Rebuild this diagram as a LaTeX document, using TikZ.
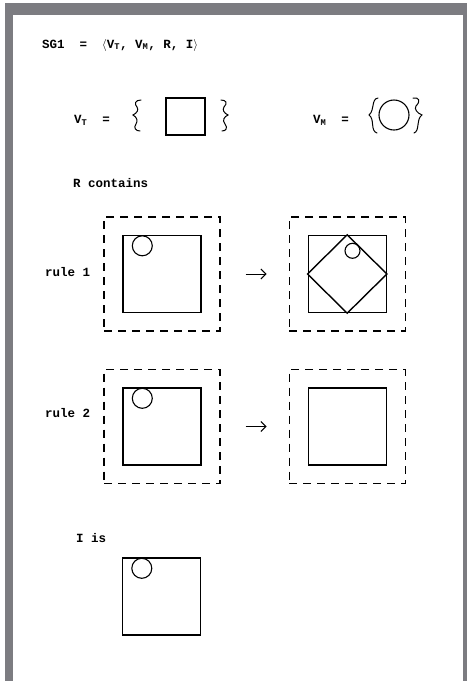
\documentclass[tikz,border=0pt]{standalone}
\usepackage{fontspec}
\setmonofont{Liberation Mono}
\usetikzlibrary{positioning,arrows.meta}
\definecolor{pagegray}{RGB}{124,124,129}

\begin{document}
\begin{tikzpicture}[
  x=1pt, y=-1pt,
  every node/.style={font=\ttfamily\bfseries\fontsize{12.5}{14}\selectfont},
  txt/.style={anchor=west, inner sep=0pt},
  dashbox/.style={draw, dash pattern=on 8pt off 6pt, line width=1.2pt, minimum width=116pt, minimum height=114pt, inner sep=0pt},
  cell/.style={draw, line width=1.4pt, minimum width=78pt, minimum height=77pt, inner sep=0pt},
  dot/.style={draw, circle, line width=1.1pt, minimum size=20pt, inner sep=0pt},
  brace/.style={line width=1pt, line cap=round},
  arrow/.style={-{Straight Barb[length=5pt,width=10pt]}, line width=1pt, shorten <=25pt, shorten >=22pt}
]
\useasboundingbox (0,0) rectangle (467,681);
\fill[white] (0,0) rectangle (467,681);
% page edges
\fill[pagegray] (5,3) rectangle (467,15);
\fill[pagegray] (5,3) rectangle (13,681);
\fill[pagegray] (463,3) rectangle (467,681);

% the grammar
\node[txt] (title) at (42,45) {SG1~~=~~$\big\langle$V\textsubscript{T},~V\textsubscript{M},~R,~I$\big\rangle$};

% terminal and marker vocabularies
\node[txt] (vt) at (74,120) {V\textsubscript{T}~~=};
\node[cell, minimum width=39pt, minimum height=37pt] (tsym) at (185.5,116.5) {};
\draw[brace] (141,100) .. controls (135,100) and (134,104) .. (137,107) .. controls (139,110) and (137,113) .. (133,115)
  .. controls (137,117) and (138,121) .. (136,124) .. controls (133,128) and (136,131) .. (140,131);
\draw[brace] (221,100) .. controls (226,100) and (228,103) .. (224,107) .. controls (222,110) and (224,113) .. (228,115)
  .. controls (224,117) and (222,120) .. (225,124) .. controls (228,128) and (226,131) .. (222,131);

\node[txt] (vm) at (313,120) {V\textsubscript{M}~~=};
\node[dot, minimum size=30pt] (msym) at (394,115) {};
\draw[brace] (378,98) .. controls (371,99) and (375,110) .. (369,115) .. controls (375,119) and (370,131) .. (377,133);
\draw[brace] (413,98) .. controls (419,97) and (421,101) .. (416,106) .. controls (414,109) and (417,113) .. (422,115)
  .. controls (416,119) and (420,131) .. (414,133);

\node[txt] (rules) at (73,183) {R contains};

% rule 1
\node[txt] (r1) at (45,272) {rule 1};
\node[dashbox] (r1a) at (162,274) {};
\node[dashbox, right=68pt of r1a] (r1b) {};
\node[cell] (s1a) at (r1a.center) {};
\node[dot] (c1a) at ([shift={(20,11)}]s1a.north west) {};
\node[cell] (s1b) at (r1b.center) {};
\draw[line width=1.4pt] (s1b.north) -- (s1b.east) -- (s1b.south) -- (s1b.west) -- cycle;
\node[dot, minimum size=15pt] (c1b) at ([shift={(45,16)}]s1b.north west) {};
\draw[arrow] (r1a) -- (r1b);

% rule 2
\node[txt] (r2) at (45,413) {rule 2};
\node[dashbox] (r2a) at (162,426.5) {};
\node[dashbox, right=68pt of r2a] (r2b) {};
\node[cell] (s2a) at (r2a.center) {};
\node[dot] (c2a) at ([shift={(20,11)}]s2a.north west) {};
\node[cell] (s2b) at (r2b.center) {};
\draw[arrow] (r2a) -- (r2b);

% initial shape
\node[txt] (start) at (76,538) {I is};
\node[cell] (init) at (161.5,596.5) {};
\node[dot] (c3) at ([shift={(20,11)}]init.north west) {};
\end{tikzpicture}
\end{document}
